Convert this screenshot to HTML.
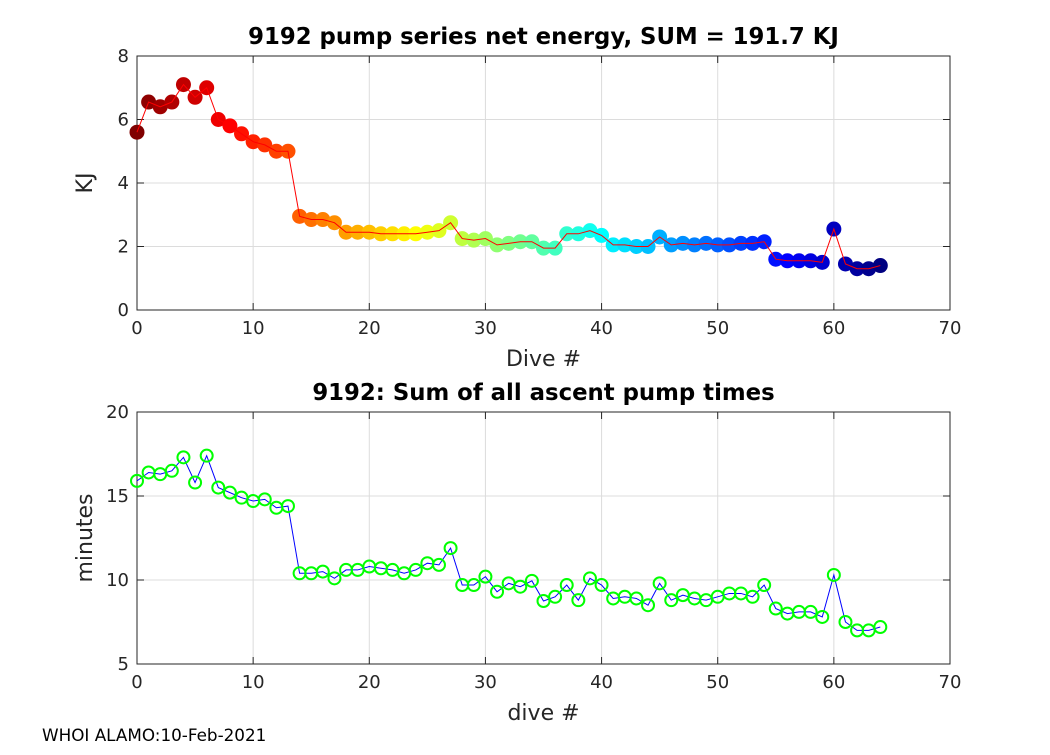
<!DOCTYPE html>
<html><head><meta charset="utf-8"><style>
body{margin:0;background:#fff;}
svg text{font-family:"DejaVu Sans","Liberation Sans",sans-serif;fill:#262626;}
</style></head><body>
<svg id="fig" width="1050" height="750" xmlns="http://www.w3.org/2000/svg">
<rect width="1050" height="750" fill="#fff"/>
<g id="top"></g>
<g id="bot"></g>
<text x="42" y="741" font-size="16.8" style="fill:#000">WHOI ALAMO:10-Feb-2021</text>
</svg>
<script>
const energy=[5.6,6.55,6.4,6.55,7.1,6.7,7.0,6.0,5.8,5.55,5.3,5.2,5.0,5.0,2.95,2.85,2.85,2.75,2.45,2.45,2.45,2.4,2.4,2.4,2.4,2.45,2.5,2.75,2.25,2.2,2.25,2.05,2.1,2.15,2.15,1.95,1.95,2.4,2.4,2.5,2.35,2.05,2.05,2.0,2.0,2.3,2.05,2.1,2.05,2.1,2.05,2.05,2.1,2.1,2.15,1.6,1.55,1.55,1.55,1.5,2.55,1.45,1.3,1.3,1.4];
const minutes=[15.9,16.4,16.3,16.5,17.3,15.8,17.4,15.5,15.2,14.9,14.7,14.8,14.3,14.4,10.4,10.4,10.5,10.1,10.6,10.6,10.8,10.7,10.6,10.4,10.6,11.0,10.9,11.9,9.7,9.7,10.2,9.3,9.8,9.6,9.95,8.75,9.0,9.7,8.8,10.1,9.7,8.9,9.0,8.9,8.5,9.8,8.8,9.1,8.9,8.8,9.0,9.2,9.2,9.0,9.7,8.3,8.0,8.1,8.1,7.8,10.3,7.5,7.0,7.0,7.2];
const xTicks=[0,10,20,30,40,50,60,70];
const yTicksTop=[0,2,4,6,8];
const yTicksBot=[5,10,15,20];
const NS="http://www.w3.org/2000/svg";
function el(p,t,a){const e=document.createElementNS(NS,t);for(const k in a)e.setAttribute(k,a[k]);p.appendChild(e);return e;}
function jet(v){const r=Math.min(Math.max(1.5-Math.abs(4*v-3),0),1),g=Math.min(Math.max(1.5-Math.abs(4*v-2),0),1),b=Math.min(Math.max(1.5-Math.abs(4*v-1),0),1);return `rgb(${Math.round(r*255)},${Math.round(g*255)},${Math.round(b*255)})`;}
function axes(g,top,bottom,ymin,ymax,yt,title,xl,yl){
 const L=137,R=950;
 const sx=v=>L+(v-0)/(70)*(R-L), sy=v=>bottom-(v-ymin)/(ymax-ymin)*(bottom-top);
 el(g,'rect',{x:L,y:top,width:R-L,height:bottom-top,fill:'#fff'});
 xTicks.forEach(t=>{const x=sx(t);
  const gl=el(g,'line',{x1:x,x2:x,y1:top,y2:bottom,stroke:'#dcdcdc','stroke-width':1});
  
  el(g,'line',{x1:x,x2:x,y1:bottom,y2:bottom-7,stroke:'#262626'});el(g,'line',{x1:x,x2:x,y1:top,y2:top+7,stroke:'#262626'});
  const tx=el(g,'text',{x:x,y:bottom+24,'font-size':18,'text-anchor':'middle'});tx.textContent=t;
  });
 yt.forEach(t=>{const y=sy(t);
  const gl=el(g,'line',{x1:L,x2:R,y1:y,y2:y,stroke:'#dcdcdc','stroke-width':1});
  
  el(g,'line',{x1:L,x2:L+7,y1:y,y2:y,stroke:'#262626'});el(g,'line',{x1:R,x2:R-7,y1:y,y2:y,stroke:'#262626'});
  const tx=el(g,'text',{x:L-8,y:y+6,'font-size':18,'text-anchor':'end'});tx.textContent=t;
  });
 el(g,'rect',{x:L,y:top,width:R-L,height:bottom-top,fill:'none',stroke:'#262626','stroke-width':1});
 const ti=el(g,'text',{x:(L+R)/2,y:top-12,'font-size':22.8,'font-weight':'bold','text-anchor':'middle',style:'fill:#000'});ti.textContent=title;
 
 const xa=el(g,'text',{x:(L+R)/2,y:bottom+56,'font-size':22,'text-anchor':'middle'});xa.textContent=xl;
 
 const ya=el(g,'text',{x:0,y:0,'font-size':22,'text-anchor':'middle',transform:`translate(92,${(top+bottom)/2}) rotate(-90)`});ya.textContent=yl;
 
 return [sx,sy];
}
const gt=document.getElementById('top');
const [sx1,sy1]=axes(gt,56,310,0,8,yTicksTop,'9192 pump series net energy, SUM = 191.7 KJ','Dive #','KJ');
const n=energy.length;
energy.forEach((v,i)=>{const c=el(gt,'circle',{cx:sx1(i),cy:sy1(v),r:7.5,fill:jet(1-i/(n-1))});
 });
const l1=el(gt,'polyline',{points:energy.map((v,i)=>sx1(i)+','+sy1(v)).join(' '),fill:'none',stroke:'#f00','stroke-width':1});

const gb=document.getElementById('bot');
const [sx2,sy2]=axes(gb,412,664,5,20,yTicksBot,'9192: Sum of all ascent pump times','dive #','minutes');
const l2=el(gb,'polyline',{points:minutes.map((v,i)=>sx2(i)+','+sy2(v)).join(' '),fill:'none',stroke:'#00f','stroke-width':1});

minutes.forEach((v,i)=>{const c=el(gb,'circle',{cx:sx2(i),cy:sy2(v),r:6,fill:'none',stroke:'#0f0','stroke-width':2});
 });
</script>
</body></html>
